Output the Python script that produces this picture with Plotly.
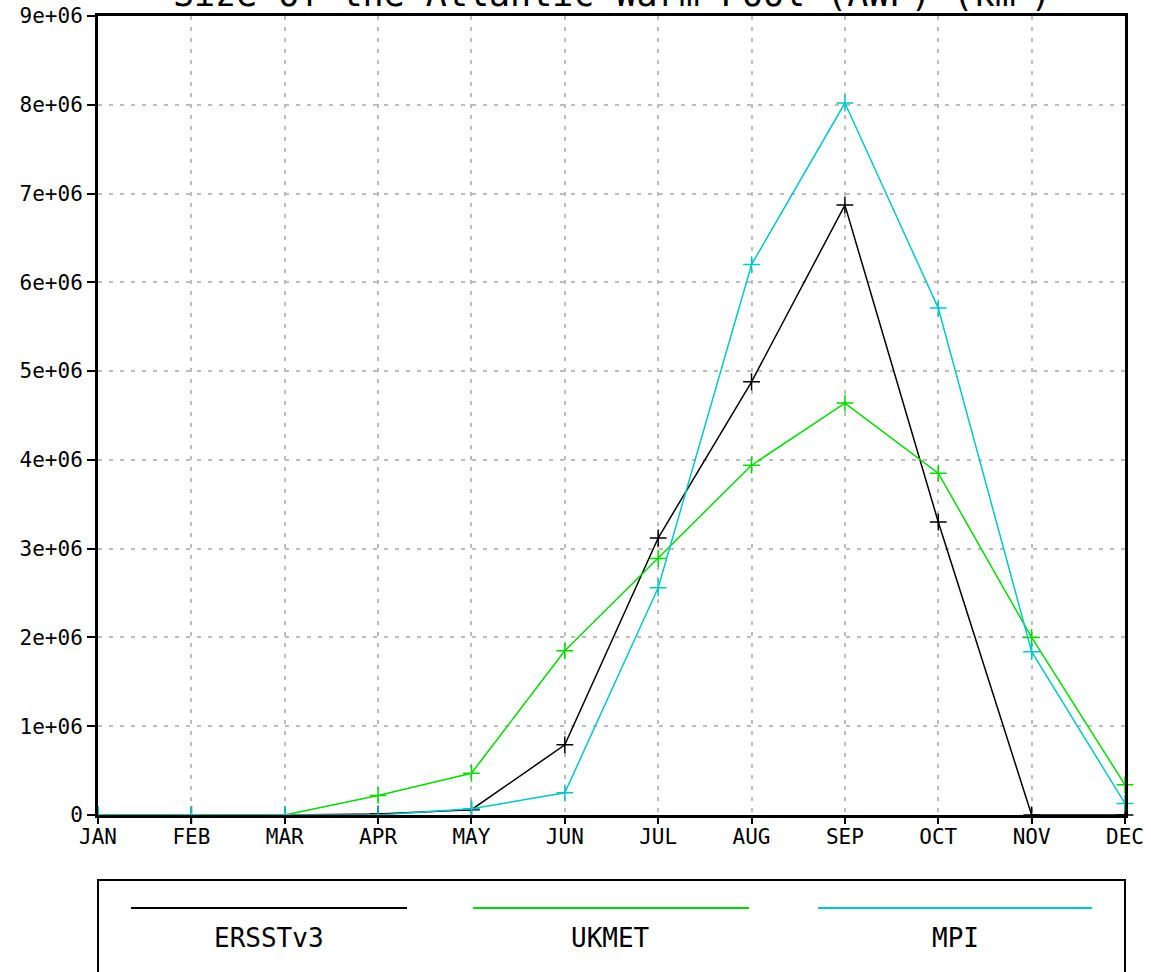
import plotly.graph_objects as go

months = ["JAN", "FEB", "MAR", "APR", "MAY", "JUN", "JUL", "AUG", "SEP", "OCT", "NOV", "DEC"]
series_names = ["ERSSTv3", "UKMET", "MPI"]
series_colors = ["#000000", "#00dc00", "#00c8c8"]
ersst = [0, 0, 0, 0.01e6, 0.06e6, 0.79e6, 3.12e6, 4.88e6, 6.87e6, 3.30e6, 0, 0]
ukmet = [0, 0, 0, 0.22e6, 0.47e6, 1.85e6, 2.89e6, 3.94e6, 4.64e6, 3.85e6, 2.00e6, 0.34e6]
mpi = [0, 0, 0, 0, 0.07e6, 0.25e6, 2.56e6, 6.20e6, 8.02e6, 5.71e6, 1.84e6, 0.13e6]
ytick_vals = [0, 1e6, 2e6, 3e6, 4e6, 5e6, 6e6, 7e6, 8e6, 9e6]
ytick_text = ["0", "1e+06", "2e+06", "3e+06", "4e+06", "5e+06", "6e+06", "7e+06", "8e+06", "9e+06"]
title_text = "Size of the Atlantic Warm Pool (AWP) (km<sup>2</sup>)"

FONT = "DejaVu Sans Mono, monospace"

fig = go.Figure()
x_idx = list(range(len(months)))
for name, color, vals in zip(series_names, series_colors, [ersst, ukmet, mpi]):
    fig.add_trace(go.Scatter(
        x=x_idx, y=vals, mode="lines+markers", name=name,
        line=dict(color=color, width=1.5),
        marker=dict(symbol="cross-thin", size=12, line=dict(color=color, width=1.5)),
        showlegend=False, cliponaxis=False,
    ))

axis_common = dict(
    showgrid=True, gridcolor="#bcbcbc", griddash="4px,7px", gridwidth=1.5,
    showline=True, linecolor="black", linewidth=3, mirror=True,
    ticks="outside", tickwidth=1.5, tickcolor="black",
    tickfont=dict(family=FONT, size=21, color="black"), zeroline=False, automargin=False,
)
fig.update_xaxes(range=[0, 11], tickvals=x_idx, ticktext=months, ticklen=6,
                 ticklabelstandoff=-5, **axis_common)
fig.update_yaxes(range=[0, 9e6], tickvals=ytick_vals, ticktext=ytick_text, ticklen=8,
                 **axis_common)

# legend box
shapes = [dict(type="rect", xref="paper", yref="paper", x0=0, x1=1, y0=-0.25, y1=-0.0814,
               line=dict(color="black", width=2), fillcolor="rgba(0,0,0,0)")]
annotations = []
seg = [(0.0321, 0.3009), (0.3651, 0.6339), (0.7011, 0.9679)]
for (a, b), name, color in zip(seg, series_names, series_colors):
    shapes.append(dict(type="line", xref="paper", yref="paper", x0=a, x1=b, y0=-0.1164, y1=-0.1164,
                       line=dict(color=color, width=2)))
    annotations.append(dict(xref="paper", yref="paper", x=(a + b) / 2, y=-0.154, text=name,
                            xanchor="center", yanchor="middle",
                            showarrow=False, font=dict(family=FONT, size=26, color="black")))

fig.update_layout(
    width=1151, height=972,
    margin=dict(l=98, r=26, t=16, b=157),
    paper_bgcolor="white", plot_bgcolor="white",
    title=dict(text=title_text, x=0.532, xanchor="center", y=(972 - 6) / 972, yref="container",
               yanchor="bottom", font=dict(family=FONT, size=35, color="black")),
    shapes=shapes, annotations=annotations,
)

fig.write_html("out.html", config={"displayModeBar": False},
               post_script="document.body.style.margin='0';")
